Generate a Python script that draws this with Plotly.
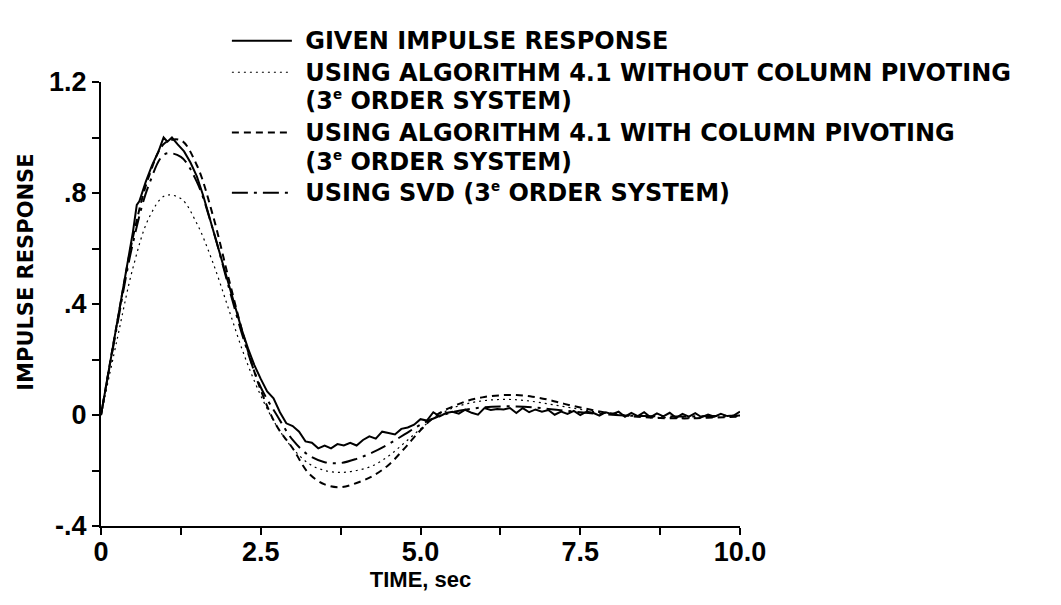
import plotly.graph_objects as go

# ---- data ----
t_model = [0, 0.25, 0.5, 0.75, 1.0, 1.25, 1.5, 1.75, 2.0, 2.25, 2.5, 2.75, 3.0, 3.25, 3.5, 3.75,
           4.0, 4.25, 4.5, 4.75, 5.0, 5.25, 5.5, 5.75, 6.0, 6.25, 6.5, 6.75, 7.0, 7.25, 7.5, 7.75,
           8.0, 8.25, 8.5, 8.75, 9.0, 9.25, 9.5, 9.75, 10.0]

y_no_pivot = [0, 0.27, 0.53, 0.71, 0.79, 0.78, 0.69, 0.55, 0.38, 0.21, 0.07, -0.04, -0.12, -0.175,
              -0.200, -0.207, -0.200, -0.183, -0.148, -0.10, -0.05, -0.005, 0.025, 0.042, 0.052,
              0.056, 0.055, 0.049, 0.040, 0.030, 0.020, 0.011, 0.004, -0.002, -0.006, -0.009,
              -0.010, -0.010, -0.009, -0.007, -0.005]

y_pivot = [0, 0.33, 0.64, 0.86, 0.98, 0.99, 0.90, 0.72, 0.49, 0.27, 0.09, -0.04, -0.12, -0.21,
           -0.25, -0.26, -0.245, -0.22, -0.18, -0.12, -0.055, 0.0, 0.03, 0.052, 0.065, 0.071,
           0.072, 0.066, 0.055, 0.040, 0.027, 0.015, 0.005, -0.003, -0.008, -0.011, -0.012,
           -0.012, -0.010, -0.008, -0.006]

y_svd = [0, 0.32, 0.62, 0.83, 0.94, 0.93, 0.84, 0.67, 0.46, 0.26, 0.10, 0.0, -0.09, -0.145,
         -0.17, -0.173, -0.158, -0.135, -0.105, -0.07, -0.035, -0.008, 0.01, 0.021, 0.028, 0.031,
         0.031, 0.028, 0.022, 0.016, 0.010, 0.005, 0.001, -0.002, -0.004, -0.005, -0.005, -0.005,
         -0.004, -0.003, -0.002]

t_given = [0, 0.1, 0.2, 0.3, 0.4, 0.5, 0.56, 0.6, 0.7, 0.8, 0.9, 0.98, 1.04, 1.11, 1.2, 1.3, 1.4,
           1.5, 1.6, 1.7, 1.8, 1.9, 2.0, 2.06, 2.1, 2.2, 2.3, 2.4, 2.5, 2.6, 2.7, 2.8, 2.9, 3.0,
           3.1, 3.2, 3.3, 3.4, 3.5, 3.6, 3.7, 3.8, 3.9, 4.0, 4.1, 4.2, 4.3, 4.4, 4.5, 4.6, 4.7,
           4.8, 4.9, 5.0, 5.1, 5.2, 5.3, 5.4, 5.5, 5.6, 5.7, 5.8, 5.9, 6.0, 6.1, 6.2, 6.3, 6.4,
           6.5, 6.6, 6.7, 6.8, 6.9, 7.0, 7.1, 7.2, 7.3, 7.4, 7.5, 7.6, 7.7, 7.8, 7.9, 8.0, 8.1,
           8.2, 8.3, 8.4, 8.5, 8.6, 8.7, 8.8, 8.9, 9.0, 9.1, 9.2, 9.3, 9.4, 9.5, 9.6, 9.7, 9.8,
           9.9, 10.0]

y_given = [0, 0.13, 0.27, 0.40, 0.53, 0.66, 0.757, 0.77, 0.84, 0.90, 0.95, 1.0, 0.985, 1.0,
           0.975, 0.95, 0.91, 0.86, 0.79, 0.71, 0.63, 0.55, 0.47, 0.42, 0.39, 0.31, 0.24, 0.18,
           0.13, 0.085, 0.06, 0.01, -0.03, -0.04, -0.06, -0.095, -0.10, -0.12, -0.11, -0.12,
           -0.105, -0.11, -0.10, -0.11, -0.09, -0.077, -0.085, -0.06, -0.065, -0.07, -0.05,
           -0.045, -0.035, -0.015, -0.02, 0.01, -0.005, 0.007, 0.012, 0.005, 0.019, 0.008, 0.001,
           0.025, 0.018, 0.022, 0.02, 0.025, 0.007, 0.025, 0.01, 0.02, 0.012, 0.018, 0.001,
           0.012, 0.004, 0.015, 0.0, 0.012, 0.008, -0.002, 0.01, 0.003, 0.012, -0.006, 0.008,
           -0.004, 0.01, -0.008, 0.006, -0.005, 0.008, -0.01, 0.004, -0.006, 0.007, -0.008,
           0.002, -0.006, 0.004, -0.004, -0.002, 0.012]

x_tick_vals = [0, 2.5, 5.0, 7.5, 10.0]
x_tick_text = ["0", "2.5", "5.0", "7.5", "10.0"]
x_minor_vals = [1.25, 3.75, 6.25, 8.75]
y_tick_vals = [-0.4, 0, 0.4, 0.8, 1.2]
y_tick_text = ["-.4", "0", ".4", ".8", "1.2"]
y_minor_vals = [-0.2, 0.2, 0.6, 1.0]

SUP_E = '<sup><span style="font-size:13.5px">e</span></sup>'
legend_lines = [
    ["GIVEN IMPULSE RESPONSE"],
    ["USING ALGORITHM 4.1 WITHOUT COLUMN PIVOTING", f"(3{SUP_E} ORDER SYSTEM)"],
    ["USING ALGORITHM 4.1 WITH COLUMN PIVOTING", f"(3{SUP_E} ORDER SYSTEM)"],
    [f"USING SVD (3{SUP_E} ORDER SYSTEM)"],
]
x_title = "TIME, sec"
y_title = "IMPULSE RESPONSE"

TICK_FONT = "Liberation Sans, Arial, sans-serif"
TEXT_FONT = "DejaVu Sans, Verdana, sans-serif"
GLYPH_PX = 24


def legend_name(lines):
    return "<br>".join(f'<span style="font-size:{GLYPH_PX}px">&nbsp;{ln}</span>' for ln in lines)


names = [legend_name(l) for l in legend_lines]

fig = go.Figure()
fig.add_trace(go.Scatter(x=t_given, y=y_given, mode="lines", name=names[0],
                         line=dict(color="black", width=2)))
fig.add_trace(go.Scatter(x=t_model, y=y_no_pivot, mode="lines", name=names[1],
                         line=dict(color="black", width=1.2, dash="2px,4px", shape="spline")))
fig.add_trace(go.Scatter(x=t_model, y=y_pivot, mode="lines", name=names[2],
                         line=dict(color="black", width=2, dash="7px,5px", shape="spline")))
fig.add_trace(go.Scatter(x=t_model, y=y_svd, mode="lines", name=names[3],
                         line=dict(color="black", width=2, dash="16px,6px,3px,6px", shape="spline")))

axis_common = dict(showgrid=False, zeroline=False, showline=True, linecolor="black",
                   linewidth=2, ticks="outside", ticklen=7, tickwidth=1.5, tickcolor="black",
                   tickfont=dict(family=TICK_FONT, size=27, color="black", weight="bold"))

fig.update_xaxes(range=[0, 10], tickmode="array", tickvals=x_tick_vals, ticktext=x_tick_text,
                 minor=dict(tickvals=x_minor_vals, ticks="outside", ticklen=7,
                            tickwidth=1.5, tickcolor="black"),
                 ticklabelstandoff=-6,
                 title=dict(text=x_title, font=dict(family=TICK_FONT, size=22, color="black",
                                                    weight="bold"), standoff=2),
                 **axis_common)
fig.update_yaxes(range=[-0.4, 1.2], tickmode="array", tickvals=y_tick_vals, ticktext=y_tick_text,
                 minor=dict(tickvals=y_minor_vals, ticks="outside", ticklen=7,
                            tickwidth=1.5, tickcolor="black"),
                 **axis_common)

fig.add_annotation(text=y_title, xref="paper", yref="paper", x=-0.117, y=0.571,
                   xanchor="center", yanchor="middle", textangle=-90, showarrow=False,
                   font=dict(family=TEXT_FONT, size=21, color="black", weight="bold"))

fig.update_layout(
    width=1061, height=605,
    margin=dict(l=93, r=329, t=66, b=87),
    paper_bgcolor="white", plot_bgcolor="white",
    showlegend=True,
    legend=dict(x=0.197, y=1.140, xanchor="left", yanchor="top",
                bgcolor="rgba(0,0,0,0)", itemwidth=60, valign="top",
                tracegroupgap=0, itemclick=False,
                font=dict(family=TEXT_FONT, size=22, color="black", weight="bold")),
)

fig.write_html("out.html")
